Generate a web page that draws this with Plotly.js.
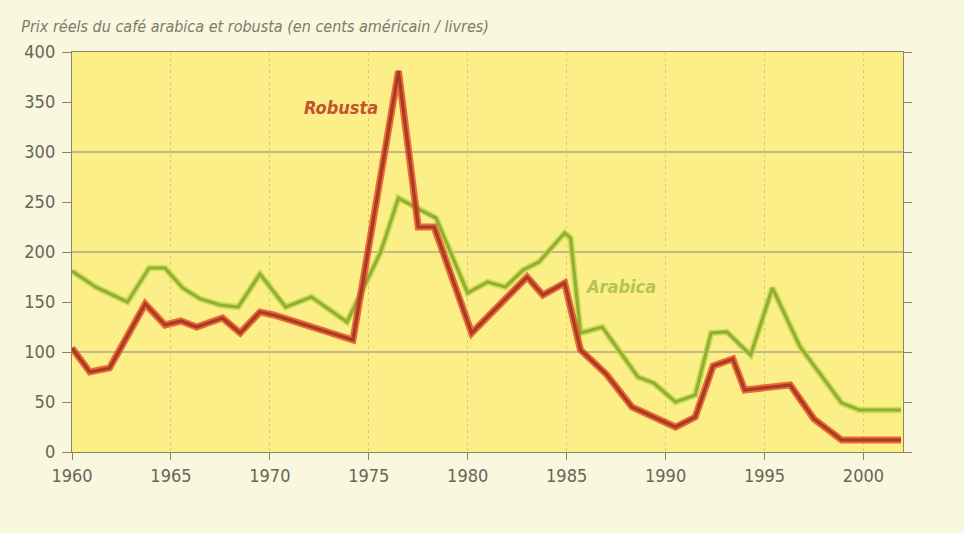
<!DOCTYPE html>
<html>
<head>
<meta charset="utf-8">
<script src="https://cdn.plot.ly/plotly-3.0.1.min.js"></script>
<style>html,body{margin:0;padding:0;background:#f9f7de;}</style>
</head>
<body>
<div id="chart" style="width:964px;height:533px;"></div>
<script>
// Robusta: vertices (year, US cents / lb)
const robustaYears  = [1960, 1960.9, 1961.9, 1963.7, 1964.7, 1965.5, 1966.3, 1967.6, 1968.5, 1969.5, 1970.2, 1974.2, 1976.5, 1977.5, 1978.3, 1980.2, 1983.0, 1983.8, 1984.9, 1985.7, 1987.0, 1988.3, 1989.4, 1990.5, 1991.5, 1992.4, 1993.4, 1994.0, 1996.3, 1997.5, 1998.9, 2001.9];
const robustaPrices = [104, 80, 84, 148, 127, 131, 125, 134, 119, 140, 137, 112, 381, 225, 225, 119, 175, 157, 169, 102, 78, 45, 35, 25, 35, 86, 93, 62, 67, 33, 12, 12];

// Arabica
const arabicaYears  = [1960, 1961.2, 1962.8, 1963.9, 1964.7, 1965.6, 1966.5, 1967.5, 1968.4, 1969.5, 1970.8, 1972.1, 1973.9, 1975.6, 1976.5, 1977.4, 1978.4, 1980.0, 1981.0, 1981.9, 1982.8, 1983.6, 1984.9, 1985.2, 1985.7, 1986.8, 1988.6, 1989.4, 1990.5, 1991.5, 1992.3, 1993.1, 1994.3, 1995.4, 1996.8, 1998.9, 1999.8, 2001.9];
const arabicaPrices = [181, 165, 150, 184, 184, 164, 153, 147, 145, 178, 145, 155, 130, 200, 254, 244, 234, 159, 170, 165, 182, 190, 219, 214, 119, 125, 75, 69, 50, 57, 119, 120, 97, 164, 105, 49, 42, 42];

const xTicks = [1960, 1965, 1970, 1975, 1980, 1985, 1990, 1995, 2000];
const yTicks = [0, 50, 100, 150, 200, 250, 300, 350, 400];
const yGrid  = [100, 200, 300, 400];

const FONT = "'Liberation Sans Narrow', 'DejaVu Sans Condensed', 'DejaVu Sans', sans-serif";
const AXIS = '#8a8563';

const traces = [
  {x: arabicaYears, y: arabicaPrices, yaxis: 'y', mode: 'lines', line: {color: 'rgba(185,220,70,0.75)', width: 6.5}, hoverinfo: 'skip'},
  {x: arabicaYears, y: arabicaPrices, yaxis: 'y', mode: 'lines', name: 'Arabica', line: {color: '#97ac36', width: 3.2}},
  {x: robustaYears, y: robustaPrices, yaxis: 'y2', mode: 'lines', line: {color: 'rgba(232,70,40,0.8)', width: 7}, hoverinfo: 'skip'},
  {x: robustaYears, y: robustaPrices, yaxis: 'y3', mode: 'lines', name: 'Robusta', line: {color: '#a53d22', width: 3.2}}
];

const layout = {
  width: 964, height: 533,
  paper_bgcolor: '#f9f7de',
  plot_bgcolor: '#fcef88',
  margin: {l: 72, r: 61, t: 52, b: 81},
  showlegend: false,
  title: {
    text: 'Prix réels du café arabica et robusta (en cents américain / livres)',
    font: {family: FONT, size: 16, color: '#7d7b6a', style: 'italic'},
    xref: 'container', x: 0.022, xanchor: 'left',
    yref: 'container', y: 0.950, yanchor: 'middle'
  },
  xaxis: {
    range: [1960, 2002], tickvals: xTicks, ticktext: xTicks.map(String),
    ticks: 'outside', ticklen: 7, tickcolor: AXIS,
    showline: true, mirror: true, linecolor: AXIS, linewidth: 1.2,
    showgrid: true, gridcolor: 'rgba(150,140,90,0.35)', griddash: 'dot',
    zeroline: false,
    tickfont: {family: FONT, size: 18, color: '#666659'}
  },
  yaxis: {
    range: [0, 400], tickvals: yTicks, ticktext: yTicks.map(String),
    ticks: 'outside', ticklen: 9, tickcolor: AXIS,
    showline: true, linecolor: AXIS, linewidth: 1.2,
    showgrid: false, zeroline: false,
    tickfont: {family: FONT, size: 18, color: '#666659'},
    ticklabelstandoff: 3
  },
  yaxis2: {
    overlaying: 'y', side: 'left', range: [0, 400], tickvals: yGrid,
    showticklabels: false, ticks: '', showline: false, zeroline: false,
    showgrid: true, gridcolor: '#c2b98a', gridwidth: 1.1
  },
  yaxis3: {
    overlaying: 'y', side: 'right', range: [0, 400], tickvals: yTicks,
    ticks: 'outside', ticklen: 8, tickcolor: AXIS,
    showticklabels: false, showgrid: false, zeroline: false,
    showline: true, linecolor: AXIS, linewidth: 1.2
  },
  annotations: [
    {x: 1973.6, y: 345, xref: 'x', yref: 'y', text: '<b><i>Robusta</i></b>', showarrow: false,
     font: {family: FONT, size: 18, color: '#c4542f'}},
    {x: 1987.7, y: 166, xref: 'x', yref: 'y', text: '<b><i>Arabica</i></b>', showarrow: false,
     font: {family: FONT, size: 18, color: '#b3c653'}},
    {x: 0.967, y: 0.025, xref: 'container', yref: 'container', xanchor: 'right', yanchor: 'middle',
     text: 'Source : Banque mondiale.', showarrow: false,
     font: {family: FONT, size: 11, color: '#6e6d60'}}
  ]
};

Plotly.newPlot('chart', traces, layout, {staticPlot: true, displayModeBar: false});
</script>
</body>
</html>
